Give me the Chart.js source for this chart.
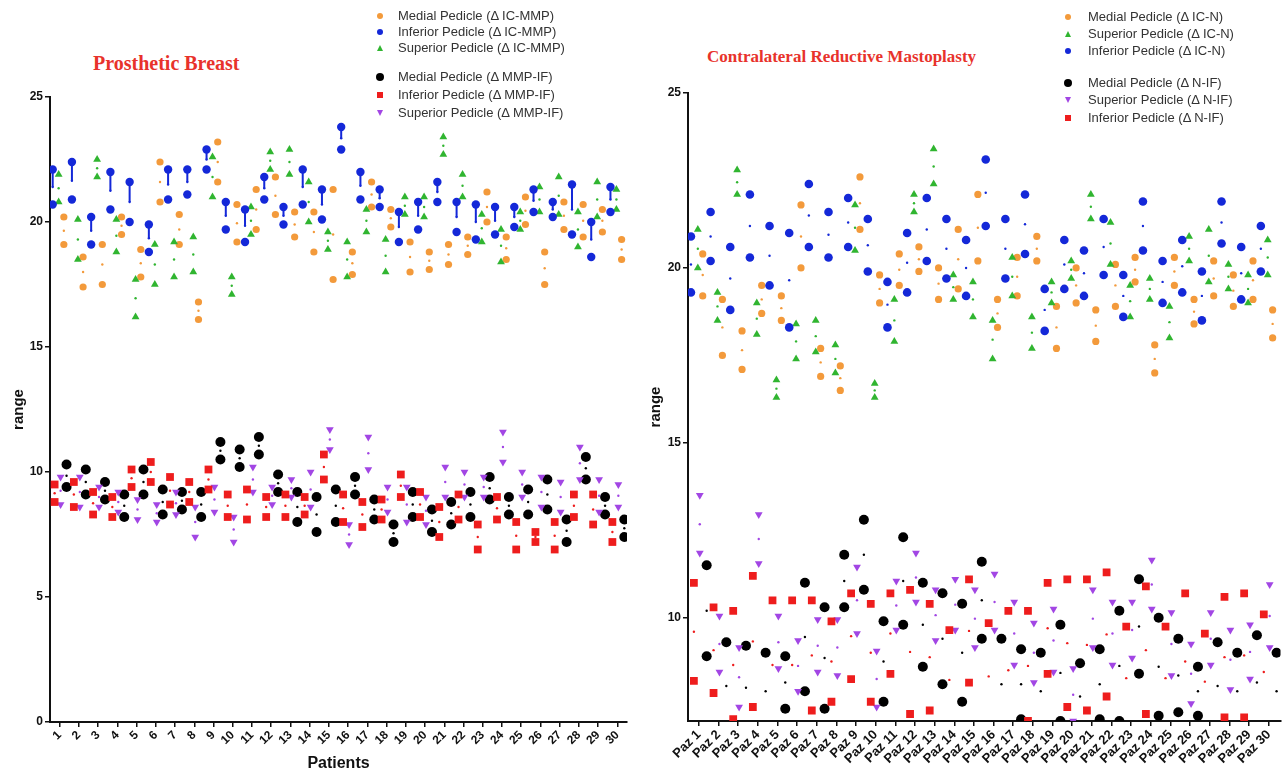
<!DOCTYPE html>
<html>
<head>
<meta charset="utf-8">
<script src="https://cdn.jsdelivr.net/npm/chart.js@4.4.1/dist/chart.umd.min.js"></script>
<style>
  body { margin: 0; width: 1286px; height: 773px; background: #fff; position: relative; overflow: hidden; font-family: "Liberation Sans", Arial, sans-serif; }
  canvas { position: absolute; top: 0; }
  #left { left: 0; }
  #right { left: 640px; }
  .title { position: absolute; color: #e8322b; font: bold 20px "Liberation Serif", "Times New Roman", serif; white-space: nowrap; }
  .leg { position: absolute; font-size: 13px; color: #333; white-space: nowrap; line-height: 16px; }
  .mk { position: absolute; }
</style>
</head>
<body>
<div class="title" style="left:93px;top:52px;">Prosthetic Breast</div>
<div class="title" style="left:707px;top:47px;font-size:17px;">Contralateral Reductive Mastoplasty</div>
<canvas id="left" width="640" height="773"></canvas>
<canvas id="right" width="646" height="773"></canvas>
<script>
// === Tick labels ===
const patientLabels = ['1','2','3','4','5','6','7','8','9','10','11','12','13','14','15','16','17','18','19','20','21','22','23','24','25','26','27','28','29','30'];
const pazLabels = ['Paz 1','Paz 2','Paz 3','Paz 4','Paz 5','Paz 6','Paz 7','Paz 8','Paz 9','Paz 10','Paz 11','Paz 12','Paz 13','Paz 14','Paz 15','Paz 16','Paz 17','Paz 18','Paz 19','Paz 20','Paz 21','Paz 22','Paz 23','Paz 24','Paz 25','Paz 26','Paz 27','Paz 28','Paz 29','Paz 30'];
const leftYTicks = [0, 5, 10, 15, 20, 25];
const rightYTicks = [10, 15, 20, 25];

// === Prosthetic Breast (two readings per patient: high / low) ===
const pbMedialIC_hi = [20.2,18.6,19.1,20.2,18.9,22.4,20.3,16.8,23.2,20.7,21.3,21.8,20.4,20.4,21.3,18.8,21.6,20.5,19.2,18.8,19.1,19.4,21.2,19.4,21.0,18.8,20.8,20.7,20.5,19.3];
const pbMedialIC_lo = [19.1,17.4,17.5,19.5,17.8,20.8,19.1,16.1,21.6,19.2,19.7,20.3,19.4,18.8,17.7,17.9,20.6,19.8,18.0,18.1,18.3,18.7,20.0,18.5,19.9,17.5,19.7,19.4,19.6,18.5];
const pbInferiorIC_hi = [22.1,22.4,20.2,22.0,21.6,19.9,22.1,22.1,22.9,20.8,20.5,21.8,20.6,22.1,21.3,23.8,22.0,21.3,20.4,20.8,21.6,20.8,20.7,20.6,20.6,21.3,20.8,21.5,20.0,21.4];
const pbInferiorIC_lo = [20.7,20.9,19.1,20.5,20.0,18.8,20.9,21.1,22.1,19.7,19.2,20.9,19.9,20.7,20.1,22.9,20.9,20.6,19.2,19.7,20.8,19.6,19.3,19.5,19.8,20.4,20.2,19.5,18.6,20.4];
const pbSuperiorIC_hi = [21.9,20.1,22.5,20.1,17.7,19.1,19.2,19.4,22.6,17.8,20.6,22.8,22.9,21.6,19.6,19.2,20.5,19.3,21.0,21.0,23.4,21.9,20.3,19.7,20.4,21.4,21.8,20.4,21.6,21.3];
const pbSuperiorIC_lo = [20.8,18.5,21.8,18.8,16.2,17.5,17.8,18.0,21.0,17.1,19.5,22.1,21.9,20.0,18.9,17.8,19.6,18.0,20.3,20.2,22.7,21.0,19.2,18.4,19.7,20.4,20.3,19.0,20.2,20.5];
const pbMedialIF_hi = [10.3,10.1,9.6,9.1,10.1,9.3,9.2,9.2,11.2,10.9,11.4,9.9,9.2,9.0,9.3,9.8,8.9,7.9,9.2,8.5,8.8,9.2,9.8,9.0,9.3,9.7,8.1,10.6,9.0,8.1];
const pbMedialIF_lo = [9.4,9.1,8.9,8.2,9.1,8.3,8.5,8.2,10.5,10.2,10.7,9.2,8.0,7.6,8.0,9.1,8.1,7.2,8.2,7.6,7.9,8.2,8.9,8.3,8.3,8.5,7.2,9.7,8.3,7.4];
const pbInferiorIF_hi = [9.5,9.6,9.2,9.0,10.1,10.4,9.8,9.6,10.1,9.1,9.3,9.0,9.1,9.0,10.7,9.1,8.8,8.9,9.9,9.2,8.6,9.1,7.9,9.0,8.0,7.6,8.0,9.1,9.1,8.0];
const pbInferiorIF_lo = [8.8,8.6,8.3,8.2,9.4,9.6,8.7,8.8,9.3,8.2,8.1,8.2,8.2,8.3,9.7,8.0,7.8,8.1,9.0,8.2,7.4,8.1,6.9,8.1,6.9,7.2,6.9,8.2,7.9,7.2];
const pbSuperiorIF_hi = [9.8,9.8,9.4,9.2,8.9,8.7,9.2,8.6,9.4,8.2,10.2,9.4,9.7,10.0,11.7,7.9,11.4,9.4,9.4,9.0,10.2,10.0,9.8,11.6,10.0,9.8,9.6,11.0,9.7,9.5];
const pbSuperiorIF_lo = [8.7,8.6,8.6,8.4,8.1,8.0,8.3,7.4,8.4,7.2,9.2,8.7,9.0,8.6,10.9,7.1,10.1,8.4,8.0,7.9,9.0,9.0,9.0,10.4,9.0,8.6,8.4,9.7,8.4,8.6];

// === Contralateral Reductive Mastoplasty ===
const crMedialIC_hi = [20.4,19.1,18.2,19.5,19.2,21.8,17.7,17.2,22.6,19.8,20.4,20.6,20.0,21.1,22.1,19.1,20.3,20.9,18.9,20.0,18.8,20.1,20.3,17.8,20.3,19.1,20.2,19.8,20.2,18.8];
const crMedialIC_lo = [19.2,17.5,17.1,18.7,18.5,20.0,16.9,16.5,21.1,19.0,19.5,19.9,19.1,19.4,20.2,18.3,19.2,20.2,17.7,19.0,17.9,18.9,19.6,17.0,19.5,18.4,19.2,18.9,19.1,18.0];
const crSuperiorIC_hi = [21.1,19.3,22.8,19.0,16.8,18.4,18.5,17.8,21.8,16.7,19.1,22.1,23.4,19.8,19.6,18.5,20.3,18.6,19.6,20.2,22.1,21.3,19.5,19.7,18.9,20.9,21.1,20.1,19.8,20.8];
const crSuperiorIC_lo = [20.0,18.5,22.1,18.1,16.3,17.4,17.6,17.0,20.5,16.3,17.9,21.6,22.4,19.1,18.6,17.4,19.2,17.7,19.0,19.7,21.4,20.1,18.6,19.1,18.0,20.2,19.6,19.4,19.0,19.8];
const crInferiorIC_hi = [20.9,21.6,20.6,22.1,21.2,21.0,22.4,21.6,22.0,21.4,19.6,21.0,22.0,21.4,20.8,23.1,21.4,22.1,19.4,20.8,20.5,21.4,19.8,21.9,20.2,20.8,19.9,21.9,20.6,21.2];
const crInferiorIC_lo = [19.3,20.2,18.8,20.3,19.5,18.3,20.6,20.3,20.6,19.9,18.3,19.3,20.2,19.7,19.2,21.2,19.7,20.4,18.2,19.4,19.2,19.8,18.6,20.5,19.0,19.3,18.5,20.7,19.1,19.9];
const crMedialIF_hi = [11.5,9.3,9.2,9.0,8.9,11.0,10.3,11.8,12.8,9.9,12.3,11.0,10.7,10.4,11.6,9.4,9.1,9.0,9.8,8.7,9.1,10.2,11.1,10.0,9.4,8.6,9.3,9.0,9.5,9.0];
const crMedialIF_lo = [8.9,6.8,6.8,6.8,7.4,7.9,7.4,10.3,10.8,7.6,9.8,8.6,8.1,7.6,9.4,6.8,7.1,6.8,7.05,6.8,7.1,7.05,8.4,7.2,7.3,7.2,6.8,6.8,6.8,6.8];
const crSuperiorIF_hi = [13.5,10.05,9.15,12.95,10.05,9.35,9.95,9.95,11.45,9.05,11.05,11.85,10.8,11.1,10.8,11.25,10.45,9.85,10.25,8.55,10.8,10.45,10.45,11.65,10.15,9.25,10.15,9.65,9.8,10.95];
const crSuperiorIF_lo = [11.85,8.45,7.45,11.55,8.55,7.9,8.45,8.35,9.55,7.45,9.65,10.45,9.35,9.65,9.15,9.65,8.65,8.15,8.45,7.05,9.15,8.65,8.85,10.25,8.35,7.55,8.65,7.95,8.25,9.15];
const crInferiorIF_hi = [11.0,10.3,10.2,11.2,10.5,10.5,10.5,9.9,10.7,10.4,10.7,10.8,10.4,9.65,11.1,9.85,10.2,10.2,11.0,11.1,11.1,11.3,9.75,10.9,9.75,10.7,9.55,10.6,10.7,10.1];
const crInferiorIF_lo = [8.2,7.85,7.1,7.45,6.8,6.8,7.35,7.6,8.25,7.6,8.4,7.25,7.35,6.8,8.15,6.8,6.8,7.05,8.4,7.45,7.35,7.75,6.8,7.25,6.8,6.8,6.8,7.15,7.15,6.8];

const ORANGE = '#f39a3b', BLUE = '#1428d8', GREEN = '#30b530', BLACK = '#000000', RED = '#ee1d1d', PURPLE = '#a246e4';

// === Punkter: två värden + liten medelpunkt per patient ===
function buildDatasets(series) {
  const sets = [];
  series.forEach(s => {
    const pts = [], means = [], stem = [];
    s.hi.forEach((h, i) => {
      const x = i + 1 + s.off;
      const m = (h + s.lo[i]) / 2;
      pts.push({ x, y: h }, { x, y: s.lo[i] });
      means.push({ x, y: m });
      stem.push({ x, y: h }, { x, y: m }, { x, y: null });
    });
    if (s.stem) {
      sets.push({ data: stem, showLine: true, spanGaps: false, borderColor: s.color, borderWidth: 2, pointRadius: 0, clip: 0 });
    }
    sets.push({ data: means, pointRadius: 1.2, pointBackgroundColor: s.color, pointBorderWidth: 0, clip: 0 });
    sets.push({
      data: pts, pointStyle: s.style, rotation: s.rot || 0, pointRadius: s.r,
      pointBackgroundColor: s.color, pointBorderColor: s.color, pointBorderWidth: 0, clip: 0
    });
  });
  return sets;
}

function axisFont(size) { return { family: '"Liberation Sans", Arial, sans-serif', weight: 'bold', size }; }

function makeChart(id, opts) {
  new Chart(document.getElementById(id), {
    type: 'scatter',
    data: { datasets: buildDatasets(opts.series) },
    options: {
      responsive: false,
      animation: false,
      devicePixelRatio: 1,
      layout: { padding: { top: opts.top, right: opts.right, left: 0, bottom: 0 } },
      plugins: { legend: { display: false }, tooltip: { enabled: false } },
      scales: {
        x: {
          type: 'linear', min: opts.xMin, max: opts.xMax,
          afterBuildTicks: a => { a.ticks = opts.labels.map((_, i) => ({ value: i + 1 })); },
          afterFit: s => { s.height = opts.xBox; },
          ticks: {
            autoSkip: false, minRotation: 45, maxRotation: 45, padding: 1,
            color: '#111', font: axisFont(opts.xFont),
            callback: v => opts.labels[Math.round(v) - 1]
          },
          grid: { drawOnChartArea: false, color: '#111', lineWidth: 1.5, tickLength: 5 },
          border: { color: '#111', width: 2 },
          title: { display: !!opts.xTitle, text: opts.xTitle, color: '#111', font: axisFont(16), padding: { top: 0, bottom: 0 } }
        },
        y: {
          min: opts.yMin, max: opts.yMax,
          afterBuildTicks: a => { a.ticks = opts.yTicks.map(v => ({ value: v })); },
          afterFit: s => { s.width = opts.yBox; },
          ticks: { color: '#111', font: axisFont(12), padding: 2 },
          grid: { drawOnChartArea: false, color: '#111', lineWidth: 1.5, tickLength: 5 },
          border: { color: '#111', width: 2 },
          title: { display: true, text: 'range', color: '#111', font: axisFont(15), padding: { top: opts.yTitlePad, bottom: 0 } }
        }
      }
    }
  });
}

makeChart('left', {
  labels: patientLabels, xMin: 0.5, xMax: 30.5, yMin: 0, yMax: 25, yTicks: leftYTicks,
  top: 97, right: 13, xBox: 51, yBox: 50, xTitle: 'Patients', xFont: 12, yTitlePad: 10,
  series: [
    { hi: pbInferiorIF_hi, lo: pbInferiorIF_lo, color: RED, style: 'rect', r: 5.5, off: -0.26 },
    { hi: pbSuperiorIF_hi, lo: pbSuperiorIF_lo, color: PURPLE, style: 'triangle', rot: 180, r: 4.5, off: 0.05 },
    { hi: pbMedialIF_hi, lo: pbMedialIF_lo, color: BLACK, style: 'circle', r: 5, off: 0.36 },
    { hi: pbInferiorIC_hi, lo: pbInferiorIC_lo, color: BLUE, style: 'circle', r: 4.2, off: -0.36, stem: true },
    { hi: pbSuperiorIC_hi, lo: pbSuperiorIC_lo, color: GREEN, style: 'triangle', r: 4.5, off: -0.05 },
    { hi: pbMedialIC_hi, lo: pbMedialIC_lo, color: ORANGE, style: 'circle', r: 3.6, off: 0.22 }
  ]
});

makeChart('right', {
  labels: pazLabels, xMin: 0.45, xMax: 30.6, yMin: 7.05, yMax: 25, yTicks: rightYTicks,
  top: 93, right: 1, xBox: 52, yBox: 48, xTitle: '', xFont: 13, yTitlePad: 7,
  series: [
    { hi: crInferiorIF_hi, lo: crInferiorIF_lo, color: RED, style: 'rect', r: 5.5, off: -0.25 },
    { hi: crSuperiorIF_hi, lo: crSuperiorIF_lo, color: PURPLE, style: 'triangle', rot: 180, r: 4.5, off: 0.05 },
    { hi: crMedialIF_hi, lo: crMedialIF_lo, color: BLACK, style: 'circle', r: 5, off: 0.4 },
    { hi: crInferiorIC_hi, lo: crInferiorIC_lo, color: BLUE, style: 'circle', r: 4.3, off: -0.4 },
    { hi: crSuperiorIC_hi, lo: crSuperiorIC_lo, color: GREEN, style: 'triangle', r: 4.5, off: -0.05 },
    { hi: crMedialIC_hi, lo: crMedialIC_lo, color: ORANGE, style: 'circle', r: 3.6, off: 0.2 }
  ]
});

// === Legender (HTML) ===
const legendRows = [
  [380, 398, 16, 'Medial Pedicle (Δ IC-MMP)', ORANGE, 'dot'],
  [380, 398, 32, 'Inferior Pedicle (Δ IC-MMP)', BLUE, 'dot'],
  [380, 398, 48, 'Superior Pedicle (Δ IC-MMP)', GREEN, 'tri'],
  [380, 398, 77, 'Medial Pedicle (Δ MMP-IF)', BLACK, 'big'],
  [380, 398, 95, 'Inferior Pedicle (Δ MMP-IF)', RED, 'sq'],
  [380, 398, 113, 'Superior Pedicle (Δ MMP-IF)', PURPLE, 'down'],
  [1068, 1088, 17, 'Medial Pedicle (Δ IC-N)', ORANGE, 'dot'],
  [1068, 1088, 34, 'Superior Pedicle (Δ IC-N)', GREEN, 'tri'],
  [1068, 1088, 51, 'Inferior Pedicle (Δ IC-N)', BLUE, 'dot'],
  [1068, 1088, 83, 'Medial Pedicle (Δ N-IF)', BLACK, 'big'],
  [1068, 1088, 100, 'Superior Pedicle (Δ N-IF)', PURPLE, 'down'],
  [1068, 1088, 118, 'Inferior Pedicle (Δ N-IF)', RED, 'sq']
];
legendRows.forEach(([mx, tx, y, text, color, shape]) => {
  const t = document.createElement('div');
  t.className = 'leg';
  t.style.left = tx + 'px';
  t.style.top = (y - 8) + 'px';
  t.textContent = text;
  document.body.appendChild(t);

  const m = document.createElement('div');
  m.className = 'mk';
  let w = 6, h = 6;
  if (shape === 'dot') { m.style.background = color; m.style.borderRadius = '50%'; }
  if (shape === 'big') { w = h = 8; m.style.background = color; m.style.borderRadius = '50%'; }
  if (shape === 'sq') { m.style.background = color; }
  if (shape === 'tri' || shape === 'down') {
    w = 0; h = 0;
    m.style.borderLeft = '3.5px solid transparent';
    m.style.borderRight = '3.5px solid transparent';
    m.style[shape === 'tri' ? 'borderBottom' : 'borderTop'] = '6px solid ' + color;
    m.style.left = (mx - 3.5) + 'px';
    m.style.top = (y - 3) + 'px';
  } else {
    m.style.left = (mx - w / 2) + 'px';
    m.style.top = (y - h / 2) + 'px';
  }
  m.style.width = w + 'px';
  m.style.height = h + 'px';
  document.body.appendChild(m);
});
</script>
</body>
</html>
